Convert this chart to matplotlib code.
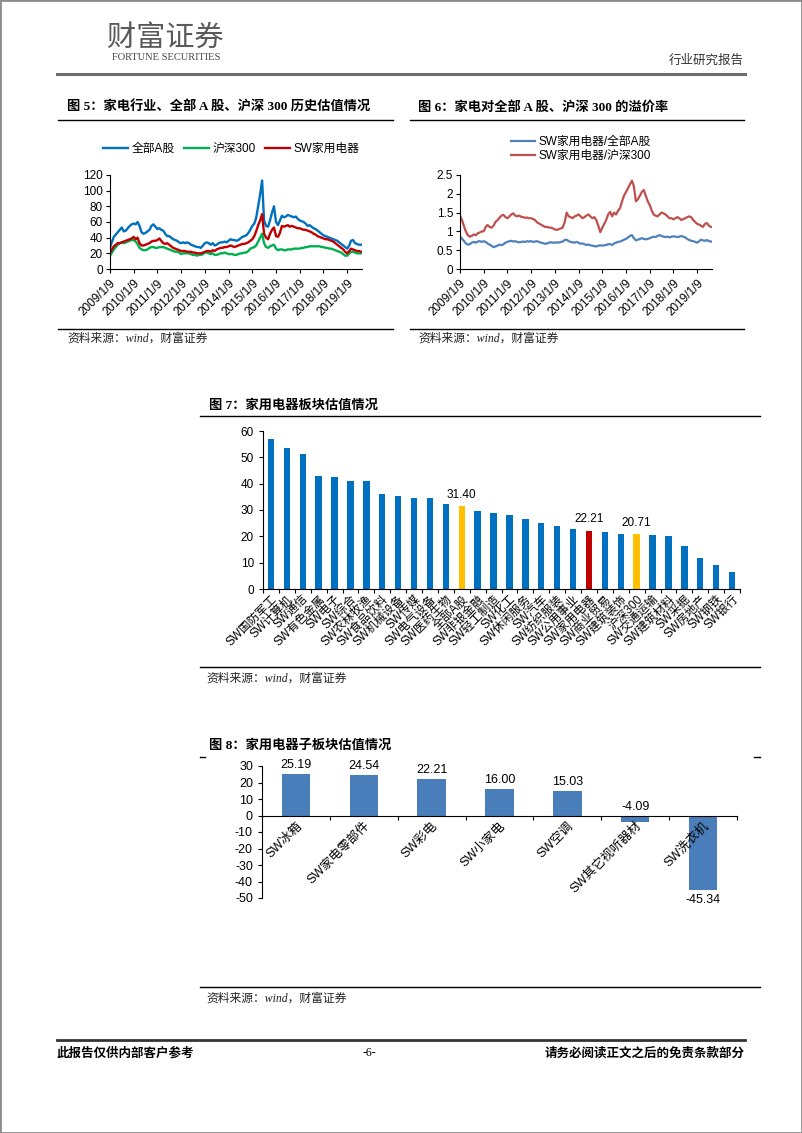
import matplotlib
matplotlib.use('Agg')
import matplotlib.pyplot as plt
from matplotlib.lines import Line2D
from matplotlib.patches import Rectangle
import numpy as np
import pandas as pd

plt.rcParams['font.family'] = ['Liberation Sans', 'Noto Sans CJK SC']
plt.rcParams['axes.unicode_minus'] = False

# ---- 图5：月度估值（2009/1 - 2019/8）
all_a = [27, 35, 41, 44, 47, 50, 53, 48, 49, 52, 55, 57,
         58, 57, 60, 55, 47, 45, 46, 48, 50, 55, 57, 54,
         51, 52, 50, 49, 45, 42, 42, 40, 38, 37, 36, 34,
         33, 34, 33, 34, 33, 31, 30, 29, 28, 28, 27, 30,
         33, 34, 33, 31, 33, 30, 31, 33, 34, 34, 35, 34,
         36, 38, 37, 37, 36, 37, 39, 41, 42, 43, 46, 50,
         55, 58, 65, 80, 95, 113, 62, 55, 54, 62, 72, 80,
         60, 56, 62, 68, 66, 67, 69, 68, 67, 66, 67, 64,
         62, 61, 60, 58, 55, 56, 54, 52, 51, 49, 47, 45,
         43, 42, 41, 40, 39, 38, 37, 36, 34, 32, 30, 28,
         26, 30, 36, 37, 33, 32, 31, 31]
hs300 = [17, 21, 25, 28, 31, 33, 34, 33, 34, 35, 36, 37,
         37, 35, 32, 27, 25, 24, 24, 25, 27, 28, 28, 27,
         27, 28, 28, 28, 27, 26, 25, 24, 23, 22, 22, 21,
         19, 20, 20, 20, 20, 19, 18, 18, 17, 18, 18, 19,
         21, 21, 20, 19, 20, 18, 18, 19, 20, 20, 21, 20,
         19, 19, 19, 18, 18, 19, 20, 20, 21, 21, 23, 26,
         27, 28, 30, 35, 40, 45, 33, 28, 27, 29, 30, 31,
         26, 24, 25, 25, 24, 24, 25, 25, 25, 26, 26, 26,
         26, 27, 27, 28, 28, 29, 29, 29, 29, 29, 29, 28,
         28, 27, 27, 26, 26, 25, 24, 23, 22, 21, 19, 17,
         17, 20, 22, 22, 21, 20, 20, 20]
sw_ha = [21, 25, 29, 31, 33, 33, 34, 35, 36, 37, 38, 39,
         41, 38, 40, 33, 30, 30, 31, 32, 33, 35, 36, 36,
         37, 39, 36, 33, 32, 33, 31, 29, 27, 26, 25, 24,
         23, 23, 23, 22, 22, 22, 21, 21, 20, 20, 20, 21,
         22, 23, 23, 22, 24, 23, 25, 26, 27, 27, 28, 28,
         29, 30, 29, 28, 29, 30, 31, 32, 32, 33, 34, 36,
         38, 42, 48, 56, 62, 70, 45, 40, 38, 45, 50, 53,
         42, 41, 46, 55, 54, 55, 56, 54, 55, 54, 53, 52,
         52, 51, 50, 50, 49, 48, 47, 45, 44, 42, 41, 40,
         39, 38, 38, 37, 36, 35, 33, 31, 29, 27, 25, 22,
         20, 23, 26, 25, 24, 23, 23, 22]

# ---- 图6：溢价率
prem_a = [0.86, 0.80, 0.75, 0.68, 0.65, 0.66, 0.70, 0.72, 0.70, 0.73, 0.74, 0.72,
          0.74, 0.72, 0.68, 0.65, 0.62, 0.58, 0.60, 0.62, 0.65, 0.63, 0.66, 0.70,
          0.72, 0.74, 0.75, 0.73, 0.74, 0.72, 0.71, 0.72, 0.73, 0.72, 0.74, 0.73,
          0.74, 0.72, 0.73, 0.74, 0.72, 0.70, 0.69, 0.67, 0.68, 0.70, 0.71, 0.70,
          0.70, 0.71, 0.70, 0.72, 0.73, 0.77, 0.78, 0.74, 0.72, 0.71, 0.70, 0.72,
          0.70, 0.67, 0.68, 0.66, 0.64, 0.65, 0.63, 0.62, 0.61, 0.60, 0.62, 0.63,
          0.62, 0.63, 0.64, 0.66, 0.66, 0.64, 0.68, 0.70, 0.72, 0.73, 0.75, 0.78,
          0.80, 0.84, 0.88, 0.90, 0.82, 0.76, 0.78, 0.80, 0.82, 0.80, 0.79, 0.80,
          0.82, 0.84, 0.86, 0.85, 0.88, 0.90, 0.88, 0.86, 0.85, 0.86, 0.84, 0.86,
          0.87, 0.86, 0.85, 0.86, 0.88, 0.86, 0.84, 0.80, 0.77, 0.75, 0.74, 0.72,
          0.70, 0.74, 0.78, 0.76, 0.75, 0.77, 0.74, 0.73]
prem_hs = [1.42, 1.30, 1.15, 1.00, 0.90, 0.86, 0.88, 0.92, 0.90, 0.95, 0.97, 1.00,
           1.00, 1.12, 1.17, 1.12, 1.10, 1.15, 1.25, 1.30, 1.36, 1.42, 1.44, 1.38,
           1.35, 1.40, 1.45, 1.48, 1.42, 1.40, 1.42, 1.39, 1.38, 1.36, 1.37, 1.35,
           1.35, 1.33, 1.30, 1.24, 1.21, 1.18, 1.15, 1.12, 1.12, 1.10, 1.10, 1.08,
           1.05, 1.04, 1.06, 1.08, 1.10, 1.25, 1.50, 1.40, 1.38, 1.35, 1.40, 1.42,
           1.45, 1.40, 1.35, 1.38, 1.42, 1.45, 1.40, 1.35, 1.38, 1.30, 1.15, 0.98,
           1.10, 1.20, 1.30, 1.45, 1.52, 1.40, 1.50, 1.45, 1.55, 1.62, 1.80, 1.95,
           2.05, 2.15, 2.25, 2.35, 2.20, 1.80, 1.85, 1.95, 2.05, 2.10, 1.95, 1.80,
           1.70, 1.55, 1.45, 1.42, 1.40, 1.45, 1.50, 1.48, 1.45, 1.40, 1.35, 1.35,
           1.32, 1.35, 1.38, 1.35, 1.30, 1.33, 1.35, 1.38, 1.40, 1.38, 1.30, 1.25,
           1.20, 1.18, 1.15, 1.12, 1.20, 1.22, 1.15, 1.12]

dates = pd.date_range('2009-01-09', periods=len(all_a), freq=pd.DateOffset(months=1))
years = list(range(2009, 2020))

# ---- 图7：板块估值
sectors = ['SW国防军工', 'SW计算机', 'SW通信', 'SW有色金属', 'SW电子', 'SW综合',
           'SW农林牧渔', 'SW食品饮料', 'SW机械设备', 'SW传媒', 'SW电气设备', 'SW医药生物',
           '全部A股', 'SW非银金融', 'SW轻工制造', 'SW化工', 'SW休闲服务', 'SW汽车',
           'SW纺织服装', 'SW公用事业', 'SW家用电器', 'SW商业贸易', 'SW建筑装饰', '沪深300',
           'SW交通运输', 'SW建筑材料', 'SW采掘', 'SW房地产', 'SW钢铁', 'SW银行']
sector_pe = [57.0, 53.4, 51.2, 42.8, 42.4, 40.9, 40.9, 35.9, 35.4, 34.4, 34.4, 32.4,
             31.40, 29.8, 28.7, 28.2, 26.6, 25.1, 24.0, 22.6, 22.21, 21.7, 20.9, 20.71,
             20.6, 20.2, 16.4, 11.7, 9.0, 6.5]

# ---- 图8：子板块估值
sub_names = ['SW冰箱', 'SW家电零部件', 'SW彩电', 'SW小家电', 'SW空调', 'SW其它视听器材', 'SW洗衣机']
sub_pe = [25.19, 24.54, 22.21, 16.00, 15.03, -4.09, -45.34]

W, H = 802, 1133
fig = plt.figure(figsize=(W / 100, H / 100), dpi=100)

def box(x0, y0, x1, y1):
    return fig.add_axes([x0 / W, 1 - y1 / H, (x1 - x0) / W, (y1 - y0) / H])

def hline(x0, x1, y, lw=1.0, color='black'):
    fig.add_artist(Line2D([x0 / W, x1 / W], [1 - y / H, 1 - y / H], lw=lw, color=color))

def txt(x, y, s, **kw):
    kw.setdefault('va', 'center')
    fig.text(x / W, 1 - y / H, s, **kw)

title_font = dict(family=['Liberation Serif', 'Noto Sans CJK SC'], fontweight='bold', fontsize=9.5)
src_font = dict(family=['Liberation Serif', 'Noto Sans CJK SC'], style='italic', fontsize=8.5, color='#222222')

# page frame
fig.add_artist(Rectangle((0, 0), 1, 1, transform=fig.transFigure, fill=False,
                         edgecolor='#8c8c8c', lw=2))

# header
txt(165, 38, '财富证券', ha='center', fontsize=21, color='#5a5a5a', family=['Noto Sans CJK SC'])
txt(166, 58, 'FORTUNE SECURITIES', ha='center', fontsize=7.5, color='#444444', family=['Liberation Serif'])
txt(744, 60, '行业研究报告', ha='right', fontsize=9, color='#333333', family=['Noto Sans CJK SC'])
hline(57, 745, 74, lw=2.2, color='#6e6e6e')

# footer
hline(57, 745, 1040, lw=2, color='#333333')
txt(57, 1053, '此报告仅供内部客户参考', ha='left', fontsize=9, fontweight='bold', family=['Noto Sans CJK SC'])
txt(369, 1053, '-6-', ha='center', fontsize=8.5, family=['Liberation Serif'])
txt(745, 1053, '请务必阅读正文之后的免责条款部分', ha='right', fontsize=9, fontweight='bold', family=['Noto Sans CJK SC'])


def style_ts(ax, top, step):
    ax.set_xlim(pd.Timestamp('2009-01-09'), pd.Timestamp('2019-08-25'))
    ax.set_ylim(0, top)
    ax.set_yticks(np.arange(0, top + step / 2, step))
    ax.set_yticklabels([f'{v:g}' for v in np.arange(0, top + step / 2, step)])
    ax.set_xticks([pd.Timestamp(f'{y}-01-09') for y in years])
    ax.set_xticklabels([f'{y}/1/9' for y in years], rotation=45, ha='right',
                       va='top', rotation_mode='anchor')
    for s in ['top', 'right']:
        ax.spines[s].set_visible(False)
    for s in ['left', 'bottom']:
        ax.spines[s].set_linewidth(0.8)
    ax.tick_params(direction='out', length=3, width=0.8, labelsize=8.5, pad=2)
    ax.tick_params(axis='x', pad=3)


# ---- 图5
txt(67, 107, '图 5：家电行业、全部 A 股、沪深 300 历史估值情况', ha='left', **title_font)
hline(58, 393, 120)
ax5 = box(110, 175, 362, 269)
l1, = ax5.plot(dates, all_a, color='#0070C0', lw=1.7)
l2, = ax5.plot(dates, hs300, color='#00B050', lw=1.7)
l3, = ax5.plot(dates, sw_ha, color='#C00000', lw=1.7)
style_ts(ax5, 120, 20)
fig.legend([l1, l2, l3], ['全部A股', '沪深300', 'SW家用电器'], loc='center',
           bbox_to_anchor=(231 / W, 1 - 149 / H), ncol=3, frameon=False, fontsize=8.5,
           handlelength=2.1, handletextpad=0.3, columnspacing=0.8)
hline(58, 393, 329)
txt(67, 339, '资料来源：wind，财富证券', ha='left', **src_font)

# ---- 图6
txt(418, 107, '图 6：家电对全部 A 股、沪深 300 的溢价率', ha='left', **title_font)
hline(410, 744, 120)
ax6 = box(460, 175, 712, 269)
m1, = ax6.plot(dates, prem_a, color='#4F81BD', lw=1.6)
m2, = ax6.plot(dates, prem_hs, color='#C0504D', lw=1.6)
style_ts(ax6, 2.5, 0.5)
fig.legend([m1, m2], ['SW家用电器/全部A股', 'SW家用电器/沪深300'], loc='center',
           bbox_to_anchor=(581 / W, 1 - 149 / H), ncol=1, frameon=False, fontsize=8.5,
           handlelength=2.1, handletextpad=0.3, labelspacing=0.2)
hline(410, 744, 329)
txt(418, 339, '资料来源：wind，财富证券', ha='left', **src_font)

# ---- 图7
txt(209, 405, '图 7：家用电器板块估值情况', ha='left', **title_font)
hline(200, 760, 416)
ax7 = box(263, 431, 740, 589)
xs = np.arange(len(sectors))
bar_colors = ['#FFC000' if n in ('全部A股', '沪深300') else '#C00000' if n == 'SW家用电器'
              else '#0070C0' for n in sectors]
ax7.bar(xs, sector_pe, width=0.4, color=bar_colors)
for i, n in enumerate(sectors):
    if n in ('全部A股', '沪深300', 'SW家用电器'):
        ax7.annotate(f'{sector_pe[i]:.2f}', (i, sector_pe[i]), xytext=(0, 4),
                     textcoords='offset points', ha='center', va='bottom', fontsize=8.5)
ax7.set_xlim(-0.5, len(sectors) - 0.5)
ax7.set_ylim(0, 60)
ax7.set_yticks(range(0, 61, 10))
ax7.set_xticks(np.arange(-0.5, len(sectors), 1))
ax7.set_xticklabels([])
ax7.set_xticks(xs, minor=True)
ax7.set_xticklabels(sectors, minor=True, rotation=45, ha='right', va='top',
                    rotation_mode='anchor', fontsize=8.5)
for s in ['top', 'right']:
    ax7.spines[s].set_visible(False)
ax7.tick_params(direction='out', length=3, width=0.8, labelsize=8.5)
ax7.tick_params(axis='x', which='minor', length=0, pad=3)
hline(200, 760, 667)
txt(206, 679, '资料来源：wind，财富证券', ha='left', **src_font)

# ---- 图8
txt(209, 745, '图 8：家用电器子板块估值情况', ha='left', **title_font)
hline(200, 205, 757)
hline(754, 760, 757)
ax8 = box(262, 766, 737, 898)
xs8 = np.arange(len(sub_names))
ax8.bar(xs8, sub_pe, width=0.42, color='#4A7EBB')
for i, v in enumerate(sub_pe):
    below = v < -10
    ax8.annotate(f'{v:.2f}', (i, v if below else max(v, 0)), xytext=(0, -3 if below else 2),
                 textcoords='offset points', ha='center', va='top' if below else 'bottom',
                 fontsize=9)
ax8.set_xlim(-0.5, len(sub_names) - 0.5)
ax8.set_ylim(-50, 30)
ax8.set_yticks(range(-50, 31, 10))
ax8.spines['bottom'].set_position(('data', 0))
for s in ['top', 'right']:
    ax8.spines[s].set_visible(False)
ax8.set_xticks(np.arange(-0.5, len(sub_names), 1))
ax8.set_xticklabels([])
ax8.set_xticks(xs8, minor=True)
ax8.set_xticklabels(sub_names, minor=True, rotation=45, ha='right', va='top',
                    rotation_mode='anchor', fontsize=9)
ax8.tick_params(direction='out', length=3, width=0.8, labelsize=9)
ax8.tick_params(axis='x', which='minor', length=0, pad=3)
hline(200, 760, 987)
txt(206, 999, '资料来源：wind，财富证券', ha='left', **src_font)

fig.savefig('out.png', dpi=100)
